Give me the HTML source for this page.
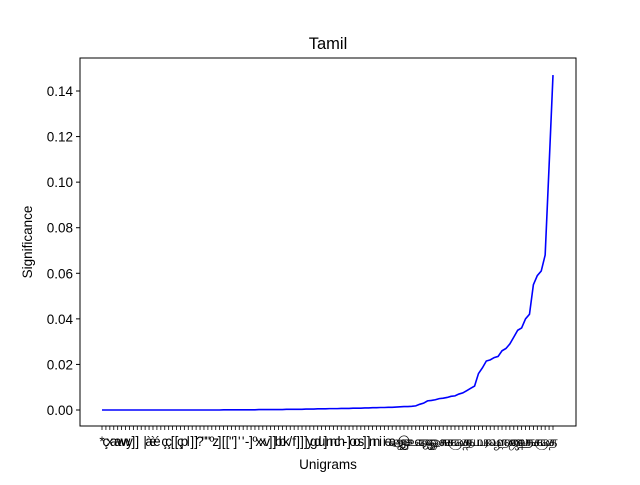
<!DOCTYPE html>
<html><head><meta charset="utf-8"><style>
body{margin:0;background:#fff;}
svg text{font-family:"Liberation Sans","DejaVu Sans",sans-serif;}
</style></head><body>
<svg id="chart" width="640" height="480" xmlns="http://www.w3.org/2000/svg">
<rect width="640" height="480" fill="#fff"/>
<text x="328" y="49" font-size="16.5" text-anchor="middle">Tamil</text>
<g id="yaxis"></g>
<g id="xaxis"></g>
<g id="plot"></g>
<rect x="80" y="58" width="496" height="368" fill="none" stroke="#000" stroke-width="1"/>
<text x="328" y="469" font-size="13.5" text-anchor="middle">Unigrams</text>
<text transform="translate(32,242) rotate(-90)" font-size="13.5" text-anchor="middle">Significance</text>
</svg>
<script>
const values=[0,0,0,0,0,0,0,0,0,0,0,0,0,0,0,0,0,0,0,0,0,0,0,0,0,0,0,0,0,0,0,
0.0001,0.0001,0.0001,0.0001,0.0001,0.0001,0.0001,0.0001,0.0001,0.0002,0.0002,0.0002,0.0002,0.0002,0.0002,0.0002,0.0003,0.0003,0.0003,0.0003,
0.0003,0.0004,0.0004,0.0004,0.0005,0.0005,0.0005,0.0006,0.0006,0.0006,0.0007,0.0007,0.0007,0.0008,0.0008,0.0008,0.0009,0.0009,0.001,0.001,
0.0011,0.0011,0.0012,0.0012,0.0013,0.0014,0.0015,0.0015,0.0016,0.0018,
0.0025,0.003,0.004,0.0042,0.0045,0.005,0.0052,0.0055,0.006,0.0062,0.007,0.0075,0.0085,0.0095,0.0105,
0.016,0.0185,0.0215,0.022,0.023,0.0235,0.026,0.027,0.029,0.032,0.035,0.036,0.040,0.042,0.055,0.059,0.061,0.068,0.107,0.147];
const latin="*çxaawwy]] |àèé çç[[çpl]]?\"\"ºz][[\"]''-]ºxxv]]bbk/f]]]ygdu]nnch-]oos]]nniiea";
const tamil="அஆஇஈஉஊஎஏஐஒஓஔகஙசஞடணதநபமயரலவழளறனஜஷஸஹகஙசஞடணதநபமயரலவழளறன";
const categories=[];
for(let i=0;i<values.length;i++){categories.push(i<latin.length?latin[i]:tamil[(i-latin.length)%tamil.length]);}
const yTicks=[0,0.02,0.04,0.06,0.08,0.10,0.12,0.14];
const yTickLabels=["0.00","0.02","0.04","0.06","0.08","0.10","0.12","0.14"];
const NS="http://www.w3.org/2000/svg";
const x0=102,x1=553;
function xs(i){return x0+(x1-x0)*i/(values.length-1);}
function ys(v){return 410-v*(410-91)/0.14;}
const ya=document.getElementById('yaxis');
yTicks.forEach((t,k)=>{
 const l=document.createElementNS(NS,'line');
 
 
 l.setAttribute('x1',76);l.setAttribute('x2',80);l.setAttribute('y1',ys(t));l.setAttribute('y2',ys(t));l.setAttribute('stroke','#000');
 ya.appendChild(l);
 const tx=document.createElementNS(NS,'text');
 
 
 tx.setAttribute('x',73);tx.setAttribute('y',ys(t)+5);tx.setAttribute('font-size','13.5');tx.setAttribute('text-anchor','end');
 tx.textContent=yTickLabels[k];ya.appendChild(tx);
});
const xa=document.getElementById('xaxis');
categories.forEach((c,i)=>{
 const l=document.createElementNS(NS,'line');
 
 
 l.setAttribute('x1',xs(i));l.setAttribute('x2',xs(i));l.setAttribute('y1',426);l.setAttribute('y2',430);l.setAttribute('stroke','#000');l.setAttribute('stroke-width','0.8');
 xa.appendChild(l);
 const tx=document.createElementNS(NS,'text');
 
 
 tx.setAttribute('x',xs(i));tx.setAttribute('y',446);tx.setAttribute('font-size','13.5');tx.setAttribute('text-anchor','middle');
 tx.textContent=c;xa.appendChild(tx);
});
const p=document.createElementNS(NS,'polyline');


p.setAttribute('points',values.map((v,i)=>xs(i)+','+ys(v)).join(' '));
p.setAttribute('fill','none');p.setAttribute('stroke','#0000ff');p.setAttribute('stroke-width','1.6');
document.getElementById('plot').appendChild(p);
</script>
</body></html>
